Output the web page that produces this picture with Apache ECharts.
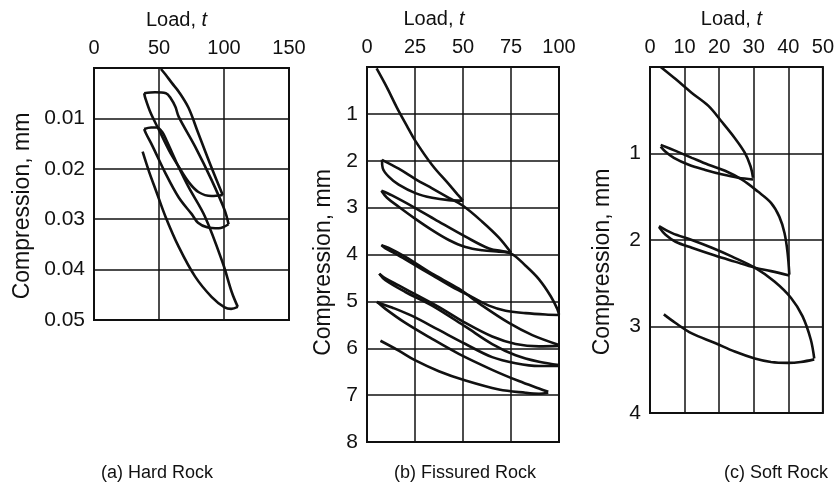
<!DOCTYPE html>
<html><head><meta charset="utf-8">
<script src="https://cdn.jsdelivr.net/npm/echarts@6/dist/echarts.min.js"></script>
<style>html,body{margin:0;padding:0;background:#fff}#c{width:837px;height:495px}</style>
</head><body><div id="c"></div>
<script>
// ---------- Panel (a) Hard Rock : [load t, compression mm] ----------
const hardLoadTicks = [0, 50, 100, 150];
const hardCompTicks = [0, 0.01, 0.02, 0.03, 0.04, 0.05];
const hardLoad1   = [[51.5,0.0002],[55,0.0013],[60,0.003],[65.2,0.0047],[72.7,0.0079],[80,0.0128],[90,0.0195],[99,0.0252]];
const hardUnload1 = [[99,0.0252],[90.4,0.0254],[80.3,0.0246],[72.7,0.0226],[65.2,0.0196],[57.6,0.0163],[50,0.0123],[43.7,0.009],[39.5,0.006],[38.6,0.005]];
const hardLoad2   = [[38.6,0.005],[47,0.0048],[55.3,0.005],[59,0.006],[62.6,0.0077],[65.2,0.0097],[77.8,0.0156],[90.4,0.0222],[100.5,0.0282],[103.5,0.031]];
const hardUnload2 = [[103.5,0.031],[96,0.0318],[87,0.0316],[80,0.0307],[75.2,0.029],[65.2,0.0257],[55,0.0209],[45,0.0155],[40,0.013],[38.6,0.0121]];
const hardLoad3   = [[38.6,0.0121],[44,0.0118],[48.5,0.0118],[52.5,0.0127],[56,0.0145],[63,0.0185],[72.7,0.0236],[85.4,0.0295],[99.2,0.0388],[106,0.0445],[110.6,0.0474]];
const hardUnload3 = [[110.6,0.0474],[105.5,0.0478],[100.5,0.0475],[90.4,0.0454],[77.8,0.0414],[65.2,0.0355],[55,0.0295],[47.5,0.0242],[42.4,0.0206],[37.4,0.0166]];

// ---------- Panel (b) Fissured Rock ----------
const fissLoadTicks = [0, 25, 50, 75, 100];
const fissCompTicks = [0, 1, 2, 3, 4, 5, 6, 7, 8];
const fissLoad0   = [[5,0.03],[10.3,0.43],[15.5,0.86],[20.7,1.25],[25.1,1.57],[33.9,2.09],[42.6,2.5],[47,2.71],[50,2.85]];
const fissUnload1 = [[50,2.85],[42.6,2.84],[33.9,2.79],[25.2,2.69],[16.5,2.51],[11.3,2.34],[8.2,2.16],[7.8,1.98]];
const fissLoad1   = [[7.8,1.98],[16.5,2.17],[25.2,2.39],[33.9,2.59],[42.6,2.79],[50,2.96],[60,3.3],[68.7,3.64],[75,3.96]];
const fissUnload2 = [[75,3.96],[68.7,3.94],[60,3.91],[51.3,3.84],[42.6,3.69],[33.9,3.48],[25.2,3.24],[16.5,2.98],[10.4,2.79],[7.5,2.64]];
const fissLoad2   = [[7.5,2.64],[13,2.74],[25.2,3.01],[37.4,3.3],[51.3,3.62],[63.5,3.87],[75,3.98],[82.6,4.24],[89.6,4.53],[95.7,4.89],[99.1,5.16],[100,5.28]];
const fissUnload3 = [[100,5.29],[93,5.28],[82.6,5.25],[72.2,5.2],[63.5,5.09],[54.8,4.91],[44.3,4.69],[33.9,4.44],[23.5,4.19],[14.8,3.98],[9.6,3.87],[7.5,3.8]];
const fissLoad3   = [[7.5,3.8],[11.3,3.86],[20,4.05],[33.9,4.41],[47.8,4.73],[60,5.09],[73.9,5.46],[86.1,5.72],[100,5.93]];
const fissUnload4 = [[100,5.95],[89.6,5.96],[77.4,5.91],[65.2,5.75],[51.3,5.46],[39.1,5.16],[27,4.89],[16.5,4.66],[9.6,4.51],[6.4,4.41]];
const fissLoad4   = [[6.4,4.41],[9.6,4.55],[20,4.8],[33.9,5.09],[51.3,5.54],[65.2,5.91],[77.4,6.15],[89.6,6.29],[100,6.36]];
const fissUnload5 = [[100,6.38],[89.6,6.38],[77.4,6.32],[65.2,6.19],[51.3,5.91],[37.4,5.61],[23.5,5.31],[13,5.13],[6.1,5.03],[5.2,5.01]];
const fissLoad5   = [[5.2,5.01],[9.6,5.16],[20,5.46],[33.9,5.8],[47.8,6.12],[65.2,6.46],[79.1,6.7],[89.6,6.86],[94.4,6.93]];
const fissUnload6 = [[94.4,6.95],[89.6,6.97],[82.6,6.95],[68.7,6.88],[51.3,6.69],[37.4,6.49],[25.2,6.26],[16.5,6.05],[7,5.84]];

// ---------- Panel (c) Soft Rock ----------
const softLoadTicks = [0, 10, 20, 30, 40, 50];
const softCompTicks = [0, 1, 2, 3, 4];
const softLoad0   = [[3.1,0],[7.4,0.14],[12.1,0.3],[16.9,0.45],[20.7,0.63],[24.5,0.82],[27.4,0.99],[29.1,1.15],[29.8,1.28]];
const softUnload1 = [[29.8,1.3],[25.5,1.28],[20.7,1.24],[16,1.19],[11.2,1.13],[6.9,1.05],[4.5,0.98],[3.1,0.92]];
const softLoad1   = [[3.1,0.9],[7.4,0.97],[12.1,1.05],[16.9,1.13],[21.7,1.2],[26.5,1.3],[31.2,1.44],[35,1.57],[37.4,1.73],[38.9,1.92],[39.8,2.15],[40.3,2.4]];
const softUnload2 = [[40.3,2.41],[35,2.36],[30.3,2.32],[24.5,2.25],[18.8,2.18],[12.1,2.09],[7.4,2.02],[4.5,1.94],[2.6,1.85]];
const softLoad2   = [[2.6,1.84],[6.4,1.92],[12.1,2.0],[17.9,2.09],[23.6,2.19],[30.3,2.32],[36,2.48],[40.8,2.67],[44.1,2.88],[46.5,3.15],[47.5,3.37]];
const softUnload3 = [[47.5,3.38],[43.6,3.41],[39.8,3.42],[35,3.41],[30.3,3.37],[24.5,3.29],[18.8,3.19],[12.1,3.08],[7.4,2.96],[4,2.86]];

const captions = ['(a) Hard Rock', '(b) Fissured Rock', '(c) Soft Rock'];
const xName = 'Load, {i|t}';
const yName = 'Compression, mm';

const FONT = 'Liberation Sans, Arial, sans-serif';
const INK = '#111';

function xAxis(idx, ticks, padRight) {
  return {
    type: 'value', gridIndex: idx, position: 'top',
    min: ticks[0], max: ticks[ticks.length - 1], interval: ticks[1] - ticks[0],
    name: xName, nameLocation: 'middle', nameGap: 38,
    nameTextStyle: { fontFamily: FONT, fontSize: 20, color: INK, padding: [0, padRight, 0, 0],
      rich: { i: { fontFamily: FONT, fontSize: 20, fontStyle: 'italic', color: INK } } },
    axisLine: { show: false }, axisTick: { show: false },
    axisLabel: { fontFamily: FONT, fontSize: 20, color: INK, margin: 10 },
    splitLine: { show: true, lineStyle: { color: INK, width: 1.5 } }
  };
}
function yAxis(idx, ticks, gap, padShift, digits) {
  return {
    type: 'value', gridIndex: idx, inverse: true,
    min: ticks[0], max: ticks[ticks.length - 1], interval: ticks[1] - ticks[0],
    name: yName, nameLocation: 'middle', nameGap: gap,
    nameTextStyle: { fontFamily: FONT, fontSize: 23, color: INK, padding: [0, padShift, 0, 0] },
    axisLine: { show: false }, axisTick: { show: false },
    axisLabel: { fontFamily: FONT, fontSize: 21, color: INK, margin: 9, showMinLabel: false,
      formatter: v => v.toFixed(digits) },
    splitLine: { show: true, lineStyle: { color: INK, width: 1.5 } }
  };
}
function line(data, idx) {
  return { type: 'line', xAxisIndex: idx, yAxisIndex: idx, data: data, smooth: 0.35,
    symbol: 'none', silent: true, animation: false,
    lineStyle: { color: INK, width: 2.6 } };
}

const chart = echarts.init(document.getElementById('c'), null, { renderer: 'canvas' });
chart.setOption({
  backgroundColor: '#fff',
  animation: false,
  title: [
    { text: captions[0], left: 152, top: 459, textAlign: 'center', textStyle: { fontFamily: FONT, fontSize: 18, fontWeight: 'normal', color: INK } },
    { text: captions[1], left: 460, top: 459, textAlign: 'center', textStyle: { fontFamily: FONT, fontSize: 18, fontWeight: 'normal', color: INK } },
    { text: captions[2], left: 771, top: 459, textAlign: 'center', textStyle: { fontFamily: FONT, fontSize: 18, fontWeight: 'normal', color: INK } }
  ],
  grid: [
    { left: 94, top: 68, width: 195, height: 252, show: true, borderColor: INK, borderWidth: 2, backgroundColor: 'transparent' },
    { left: 367, top: 67, width: 192, height: 375, show: true, borderColor: INK, borderWidth: 2, backgroundColor: 'transparent' },
    { left: 650, top: 67, width: 175, height: 346, show: true, borderColor: INK, borderWidth: 2, backgroundColor: 'transparent' }
  ],
  xAxis: [ xAxis(0, hardLoadTicks, 30), xAxis(1, fissLoadTicks, 58), xAxis(2, softLoadTicks, 10) ],
  yAxis: [ yAxis(0, hardCompTicks, 60, 24, 2), yAxis(1, fissCompTicks, 32, 16, 0), yAxis(2, softCompTicks, 36, 44, 0) ],
  series: [
    line(hardLoad1, 0), line(hardUnload1, 0), line(hardLoad2, 0), line(hardUnload2, 0), line(hardLoad3, 0), line(hardUnload3, 0),
    line(fissLoad0, 1), line(fissUnload1, 1), line(fissLoad1, 1), line(fissUnload2, 1), line(fissLoad2, 1), line(fissUnload3, 1),
    line(fissLoad3, 1), line(fissUnload4, 1), line(fissLoad4, 1), line(fissUnload5, 1), line(fissLoad5, 1), line(fissUnload6, 1),
    line(softLoad0, 2), line(softUnload1, 2), line(softLoad1, 2), line(softUnload2, 2), line(softLoad2, 2), line(softUnload3, 2)
  ]
});
</script></body></html>
